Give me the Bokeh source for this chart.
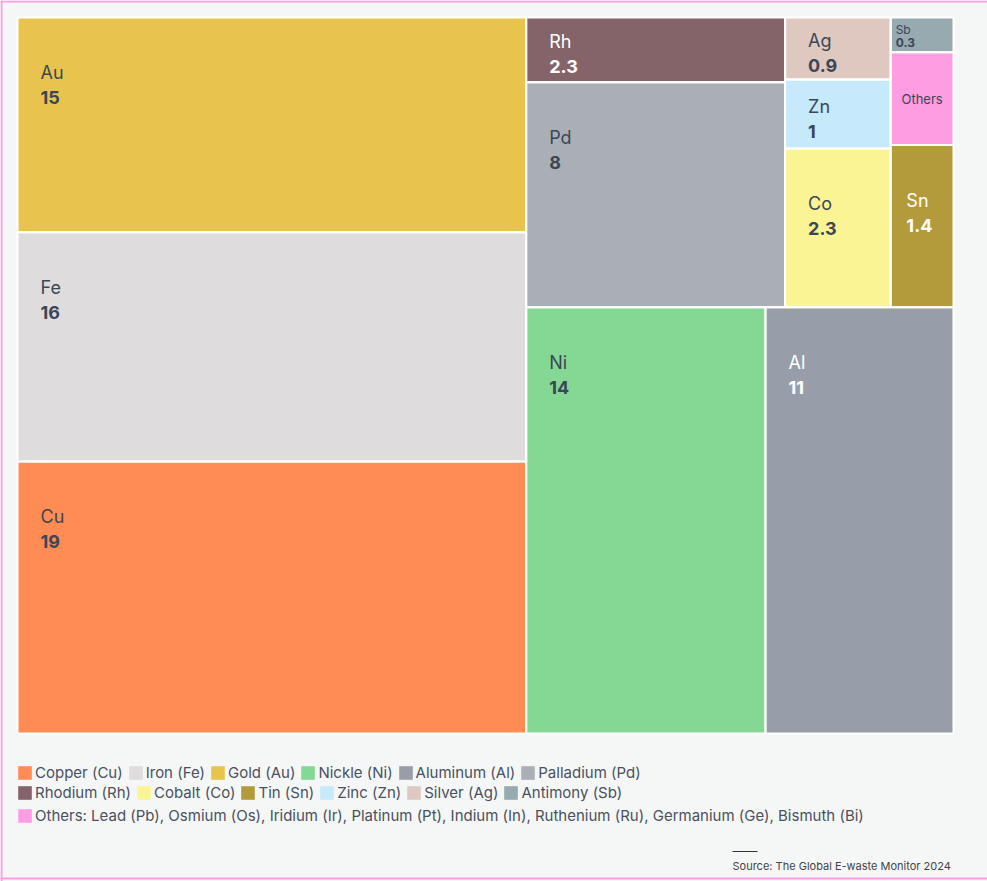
from bokeh.plotting import figure
from bokeh.models import Range1d, ColumnDataSource, Legend, LegendItem, Label
from bokeh.core.properties import value
from bokeh.embed import file_html
from bokeh.resources import INLINE

# ---------------- data ----------------
symbols = ["Au", "Fe", "Cu", "Rh", "Pd", "Ag", "Zn", "Co", "Sb", "Others", "Sn", "Ni", "Al"]
values = [15, 16, 19, 2.3, 8, 0.9, 1, 2.3, 0.3, 0.8, 1.4, 14, 11]
show_value = [True, True, True, True, True, True, True, True, True, False, True, True, True]
colors = ["#e8c44e", "#dedcdc", "#ff8c55", "#846468", "#a9afb5", "#dec8c0", "#c6e9fb",
          "#fbf495", "#96aab0", "#ff9de2", "#b39b3c", "#85d894", "#989ea9"]
text_colors = ["#3b4656", "#3b4656", "#3b4656", "#ffffff", "#3b4656", "#3b4656", "#3b4656",
               "#3b4656", "#3b4656", "#3b4656", "#ffffff", "#3b4656", "#ffffff"]

legend_row1 = ["Cu", "Fe", "Au", "Ni", "Al", "Pd"]
legend_row1_labels = ["Copper (Cu)", "Iron (Fe)", "Gold (Au)", "Nickle (Ni)", "Aluminum (Al)", "Palladium (Pd)"]
legend_row2 = ["Rh", "Co", "Sn", "Zn", "Ag", "Sb"]
legend_row2_labels = ["Rhodium (Rh)", "Cobalt (Co)", "Tin (Sn)", "Zinc (Zn)", "Silver (Ag)", "Antimony (Sb)"]
legend_row3 = ["Others"]
legend_row3_labels = ["Others: Lead (Pb), Osmium (Os), Iridium (Ir), Platinum (Pt), Indium (In), "
                      "Ruthenium (Ru), Germanium (Ge), Bismuth (Bi)"]

source_text = "Source: The Global E-waste Monitor 2024"

# nested slice structure of the treemap ("h" = side by side, "v" = stacked)
tree = ("h", [("v", ["Au", "Fe", "Cu"]),
              ("v", [("h", [("v", ["Rh", "Pd"]), ("v", ["Ag", "Zn", "Co"]), ("v", ["Sb", "Others", "Sn"])]),
                     ("h", ["Ni", "Al"])])])

# ---------------- layout ----------------
W, H = 987, 881
FONT = "Inter"
BG = "#f5f7f7"
vmap = dict(zip(symbols, values))


def total(node):
    if isinstance(node, str):
        return vmap[node]
    return sum(total(c) for c in node[1])


rects = {}


def place(node, x0, y0, x1, y1):
    if isinstance(node, str):
        rects[node] = (x0, y0, x1, y1)
        return
    d, children = node
    t = total(node)
    pos = x0 if d == "h" else y0
    for c in children:
        frac = total(c) / t
        if d == "h":
            w = (x1 - x0) * frac
            place(c, pos, y0, pos + w, y1)
            pos += w
        else:
            h = (y1 - y0) * frac
            place(c, x0, pos, x1, pos + h)
            pos += h


place(tree, 17, 17, 953, 733)

p = figure(width=W, height=H, output_backend="svg", toolbar_location=None,
           x_range=Range1d(0, W), y_range=Range1d(H, 0), min_border=0)
p.axis.visible = False
p.grid.visible = False
p.outline_line_color = None
p.background_fill_color = BG
p.border_fill_color = BG

src = ColumnDataSource(dict(
    left=[rects[s][0] for s in symbols], right=[rects[s][2] for s in symbols],
    top=[rects[s][1] for s in symbols], bottom=[rects[s][3] for s in symbols],
    color=colors))
cells = p.quad(left="left", right="right", top="top", bottom="bottom", source=src,
               fill_color="color", line_alpha=0)
p.quad(left="left", right="right", top="top", bottom="bottom", source=src,
       fill_alpha=0, line_color="white", line_width=2)

# labels
sx, sy, st, sc, sf, salign = [], [], [], [], [], []
vx, vy, vt, vc, vf = [], [], [], [], []
for s, v, col, show in zip(symbols, values, text_colors, show_value):
    x0, y0, x1, y1 = rects[s]
    w, h = x1 - x0, y1 - y0
    if not show:
        sx.append((x0 + x1) / 2); sy.append((y0 + y1) / 2); st.append(s); sc.append(col)
        sf.append("13px"); salign.append("center")
        continue
    if h < 50:
        lx = x0 + 5
        ly = y0 + h / 2 - 5
        fs, gap = "12px", 13
    else:
        lx = x0 + min(23, 0.25 * w)
        ly = y0 + min(55, h / 2 - 8)
        fs, gap = "18px", 25
    sx.append(lx); sy.append(ly); st.append(s); sc.append(col); sf.append(fs); salign.append("left")
    vx.append(lx); vy.append(ly + gap); vt.append(f"{v:g}"); vc.append(col); vf.append(fs)

p.text(x="x", y="y", text="t", text_color="c", text_font_size="f", text_align="a",
       text_baseline="middle", text_font=value(FONT),
       source=ColumnDataSource(dict(x=sx, y=sy, t=st, c=sc, f=sf, a=salign)))
p.text(x="x", y="y", text="t", text_color="c", text_font_size="f", text_align="left",
       text_baseline="middle", text_font=value(FONT), text_font_style="bold",
       source=ColumnDataSource(dict(x=vx, y=vy, t=vt, c=vc, f=vf)))

# legends (swatches taken from the cell glyph by index)
idx = {s: i for i, s in enumerate(symbols)}


def make_legend(keys, labels, loc):
    items = [LegendItem(label=lab, renderers=[cells], index=idx[k]) for k, lab in zip(keys, labels)]
    lg = Legend(items=items, orientation="horizontal", location=loc,
                background_fill_alpha=0, border_line_alpha=0, padding=0, margin=0,
                spacing=4, label_standoff=2, glyph_width=17, glyph_height=17,
                label_height=17, label_text_font=FONT, label_text_font_size="15px",
                label_text_color="#4a5060")
    p.add_layout(lg, "center")


make_legend(legend_row1, legend_row1_labels, (16, 99))
make_legend(legend_row2, legend_row2_labels, (16, 79))
make_legend(legend_row3, legend_row3_labels, (16, 56))

# source note
p.segment(x0=[732], y0=[851], x1=[757], y1=[851], line_color="#333333", line_width=1)
p.add_layout(Label(x=732, y=865, text=source_text, text_font=FONT, text_font_size="11px",
                   text_color="#444444", text_baseline="middle"))

# page frame lines (left, top, bottom)
p.segment(x0=[1, 0, 0], y0=[0, 1, 878], x1=[1, W, W], y1=[H, 1, 878],
          line_color="#ff9de2", line_width=2)

open("out.html", "w").write(file_html(p, INLINE))
